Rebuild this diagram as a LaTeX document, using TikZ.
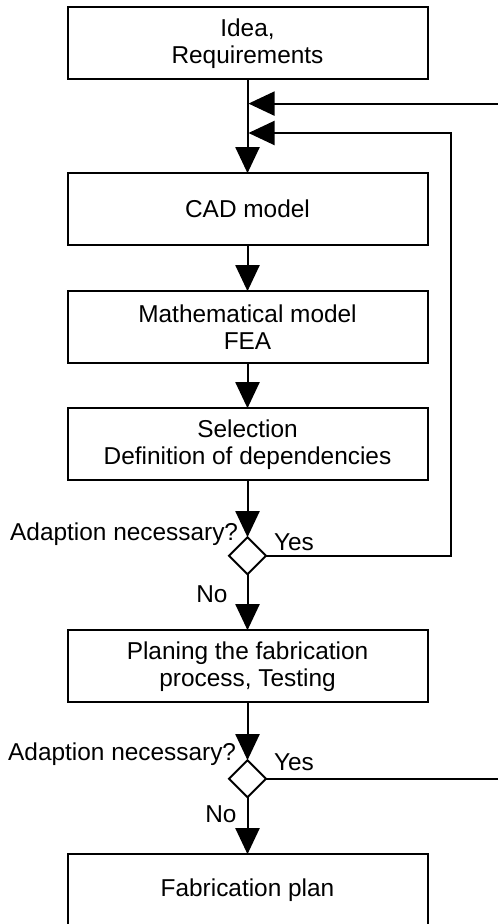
\documentclass[tikz,border=0pt]{standalone}
\usepackage{fontspec}
\setmainfont{Liberation Sans}
\usetikzlibrary{arrows.meta,shapes.geometric,positioning,calc}
\tikzset{
  process/.style={
    rectangle, draw, line width=1pt, minimum width=180pt, minimum height=36pt,
    align=center, inner sep=2pt, outer sep=0pt
  },
  %
  decision/.style={
    diamond, draw, line width=1pt, minimum size=18.5pt, inner sep=0pt, outer sep=0pt
  },
  %
  flow/.style={
    line width=1pt, -{Triangle[width=12pt,length=13pt]}
  },
  %
  lbl/.style={
    inner sep=0pt
  }
}

\begin{document}
\begin{tikzpicture}[font=\fontsize{12.2pt}{13.5pt}\selectfont]
\useasboundingbox (0,0) rectangle (248.5pt,-462pt);

\node(idea)[process] at (123.75pt,-21.6pt) {Idea,\\Requirements};
\node(cad)[process, below=47pt of idea] {CAD model};
\node(math)[process, below=23pt of cad] {Mathematical model\\FEA};
\node(sel)[process, below=22.5pt of math] {Selection\\Definition of dependencies};
\node(adapt1)[decision, below=28.5pt of sel] {};
\node(plan)[process, below=28pt of adapt1] {Planing the fabrication\\process, Testing};
\node(adapt2)[decision, below=29pt of plan] {};
\node(fab)[process, below=28.5pt of adapt2] {Fabrication plan};

\node(ask1)[lbl, anchor=east] at ([xshift=-4.5pt,yshift=1.5pt]adapt1.north) {Adaption necessary?};
\node(ask2)[lbl, anchor=east] at ([xshift=-5.5pt,yshift=3pt]adapt2.north) {Adaption necessary?};

\coordinate (fb1) at ([xshift=0.5pt,yshift=-12.2pt]idea.south);
\coordinate (fb2) at ([xshift=0.5pt,yshift=-26.9pt]idea.south);

\draw[flow] (idea) -- (cad);
\draw[flow] (cad) -- (math);
\draw[flow] (math) -- (sel);
\draw[flow] (sel) -- (adapt1);
\draw[flow] (adapt1) -- node[lbl, pos=0.36, anchor=east, xshift=-9.5pt] {No} (plan);
\draw[flow] (plan) -- (adapt2);
\draw[flow] (adapt2) -- node[lbl, pos=0.3, anchor=east, xshift=-5pt] {No} (fab);
\draw[flow] (adapt1.east) -- node[lbl, pos=0, anchor=west, xshift=3.5pt, yshift=6.75pt] {Yes} ++(92.5pt,0) |- (fb2);
\draw[flow] (adapt2.east) -- node[lbl, pos=0, anchor=west, xshift=3.5pt, yshift=8pt] {Yes} ++(120pt,0) |- (fb1);

\end{tikzpicture}
\end{document}
